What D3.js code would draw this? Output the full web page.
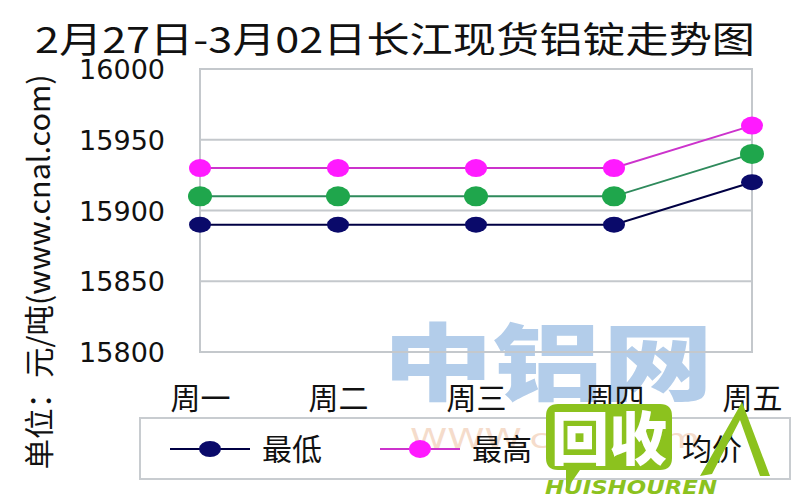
<!DOCTYPE html>
<html><head><meta charset="utf-8">
<script src="https://cdn.jsdelivr.net/npm/d3@7/dist/d3.min.js"></script>
<style>body{margin:0;background:#fff}svg{display:block}</style>
</head><body>
<svg id="c" width="800" height="500"></svg>
<script>
const categories = ["周一","周二","周三","周四","周五"];
const lowPrice  = [15890,15890,15890,15890,15920];
const highPrice = [15930,15930,15930,15930,15960];
const avgPrice  = [15910,15910,15910,15910,15940];
const yTicks = [15800,15850,15900,15950,16000];
const seriesNames = ["最低","最高","均价"];
const titleText = "2月27日-3月02日长江现货铝锭走势图";
const yTitle = "单位：元/吨(www.cnal.com)";

const svg = d3.select("#c");
const L=200,R=752,T=69,B=352;
const x = d3.scalePoint().domain(categories).range([L,R]);
const y = d3.scaleLinear().domain([15800,16000]).range([B,T]);
const cjk = "'Noto Sans CJK SC','Noto Sans',sans-serif";

// title
svg.append("text").attr("x",35).attr("y",53).attr("font-family",cjk)
  .attr("font-size",36).attr("fill","#111").attr("textLength",720)
  .attr("lengthAdjust","spacingAndGlyphs").text(titleText);

// watermark
svg.append("text").attr("x",548).attr("y",394).attr("text-anchor","middle")
  .attr("font-family",cjk).attr("font-weight",900).attr("font-size",84)
  .attr("fill","#b3cdea").attr("textLength",330).attr("lengthAdjust","spacingAndGlyphs").text("中铝网");

// grid
const g = svg.append("g");
g.append("rect").attr("x",L).attr("y",T).attr("width",R-L).attr("height",B-T)
  .attr("fill","none").attr("stroke","#c4c8cc").attr("stroke-width",2);
g.selectAll("line.grid").data(yTicks.slice(1,-1)).join("line")
  .attr("x1",L).attr("x2",R).attr("y1",d=>y(d)).attr("y2",d=>y(d))
  .attr("stroke","#c4c8cc").attr("stroke-width",2);

// y axis labels
const yAxis = d3.axisLeft(y).tickValues(yTicks).tickSize(0).tickPadding(0).tickFormat(d3.format("d"));
const ya = svg.append("g").attr("transform","translate(165,0)").call(yAxis);
ya.select(".domain").remove();
ya.selectAll("text").attr("font-family","'DejaVu Sans',sans-serif").attr("font-size",27)
  .attr("fill","#111").attr("dy","0.36em");

// x axis labels
const xAxis = d3.axisBottom(x).tickSize(0).tickPadding(0);
const xa = svg.append("g").attr("transform","translate(0,385)").call(xAxis);
xa.select(".domain").remove();
xa.selectAll("text").attr("font-family",cjk).attr("font-size",30).attr("fill","#111").attr("dy","0.8em");

// y title
svg.append("text").attr("transform","translate(50,272) rotate(-90)")
  .attr("text-anchor","middle").attr("font-family",cjk).attr("font-size",30)
  .attr("fill","#111").attr("textLength",395).attr("lengthAdjust","spacingAndGlyphs").text(yTitle);

// series
const series = [
  {name:seriesNames[0], vals:lowPrice, line:"#000044", dot:"#0a0a6a", rx:11, ry:8},
  {name:seriesNames[1], vals:highPrice, line:"#cc33cc", dot:"#ff1aff", rx:11, ry:9},
  {name:seriesNames[2], vals:avgPrice, line:"#2f8a5c", dot:"#1fa64c", rx:12, ry:10}
];
const line = d3.line().x((d,i)=>x(categories[i])).y(d=>y(d));
series.forEach(s=>{
  svg.append("path").attr("d",line(s.vals)).attr("fill","none").attr("stroke",s.line).attr("stroke-width",2);
  svg.selectAll(null).data(s.vals).join("ellipse")
    .attr("cx",(d,i)=>x(categories[i])).attr("cy",d=>y(d)).attr("rx",s.rx).attr("ry",s.ry).attr("fill",s.dot);
});

// legend
svg.append("rect").attr("x",140).attr("y",418).attr("width",650).attr("height",61)
  .attr("fill","none").attr("stroke","#c8ccd0").attr("stroke-width",2);
svg.append("text").attr("x",555).attr("y",448).attr("text-anchor","middle")
  .attr("font-family","'DejaVu Sans',sans-serif").attr("font-size",26).attr("fill","#f5dccb")
  .attr("textLength",290).attr("lengthAdjust","spacingAndGlyphs").text("WWW.cnal.com");
const lx=[170,380,590];
series.forEach((s,i)=>{
  const lg=svg.append("g").attr("transform",`translate(${lx[i]},449)`);
  lg.append("line").attr("x1",0).attr("x2",80).attr("stroke",s.line).attr("stroke-width",2);
  lg.append("ellipse").attr("cx",40).attr("rx",s.rx).attr("ry",s.ry).attr("fill",s.dot);
  lg.append("text").attr("x",92).attr("dy","0.36em").attr("font-family",cjk).attr("font-size",30)
    .attr("fill","#111").text(s.name);
});

// overlay logo
const logo = svg.append("g");
logo.append("path").attr("d","M558,404 H660 Q672,404 672,416 V458 Q672,470 660,470 H580 L566,490 L566,470 H558 Q546,470 546,458 V416 Q546,404 558,404 Z").attr("fill","#8cc21e");
logo.append("text").attr("x",609).attr("y",460).attr("text-anchor","middle").attr("font-family",cjk)
  .attr("font-weight",900).attr("font-size",58).attr("fill","#fff").text("回收");
logo.append("path").attr("d","M700,476 L742,402 L770,476 L760,476 L740,420 L712,474 Z").attr("fill","#8cc21e");
logo.append("text").attr("x",545).attr("y",494).attr("font-family","'DejaVu Sans',sans-serif")
  .attr("font-weight","bold").attr("font-style","italic").attr("font-size",19).attr("fill","#8cc21e")
  .attr("textLength",172).attr("lengthAdjust","spacingAndGlyphs").text("HUISHOUREN");
</script>
</body></html>
